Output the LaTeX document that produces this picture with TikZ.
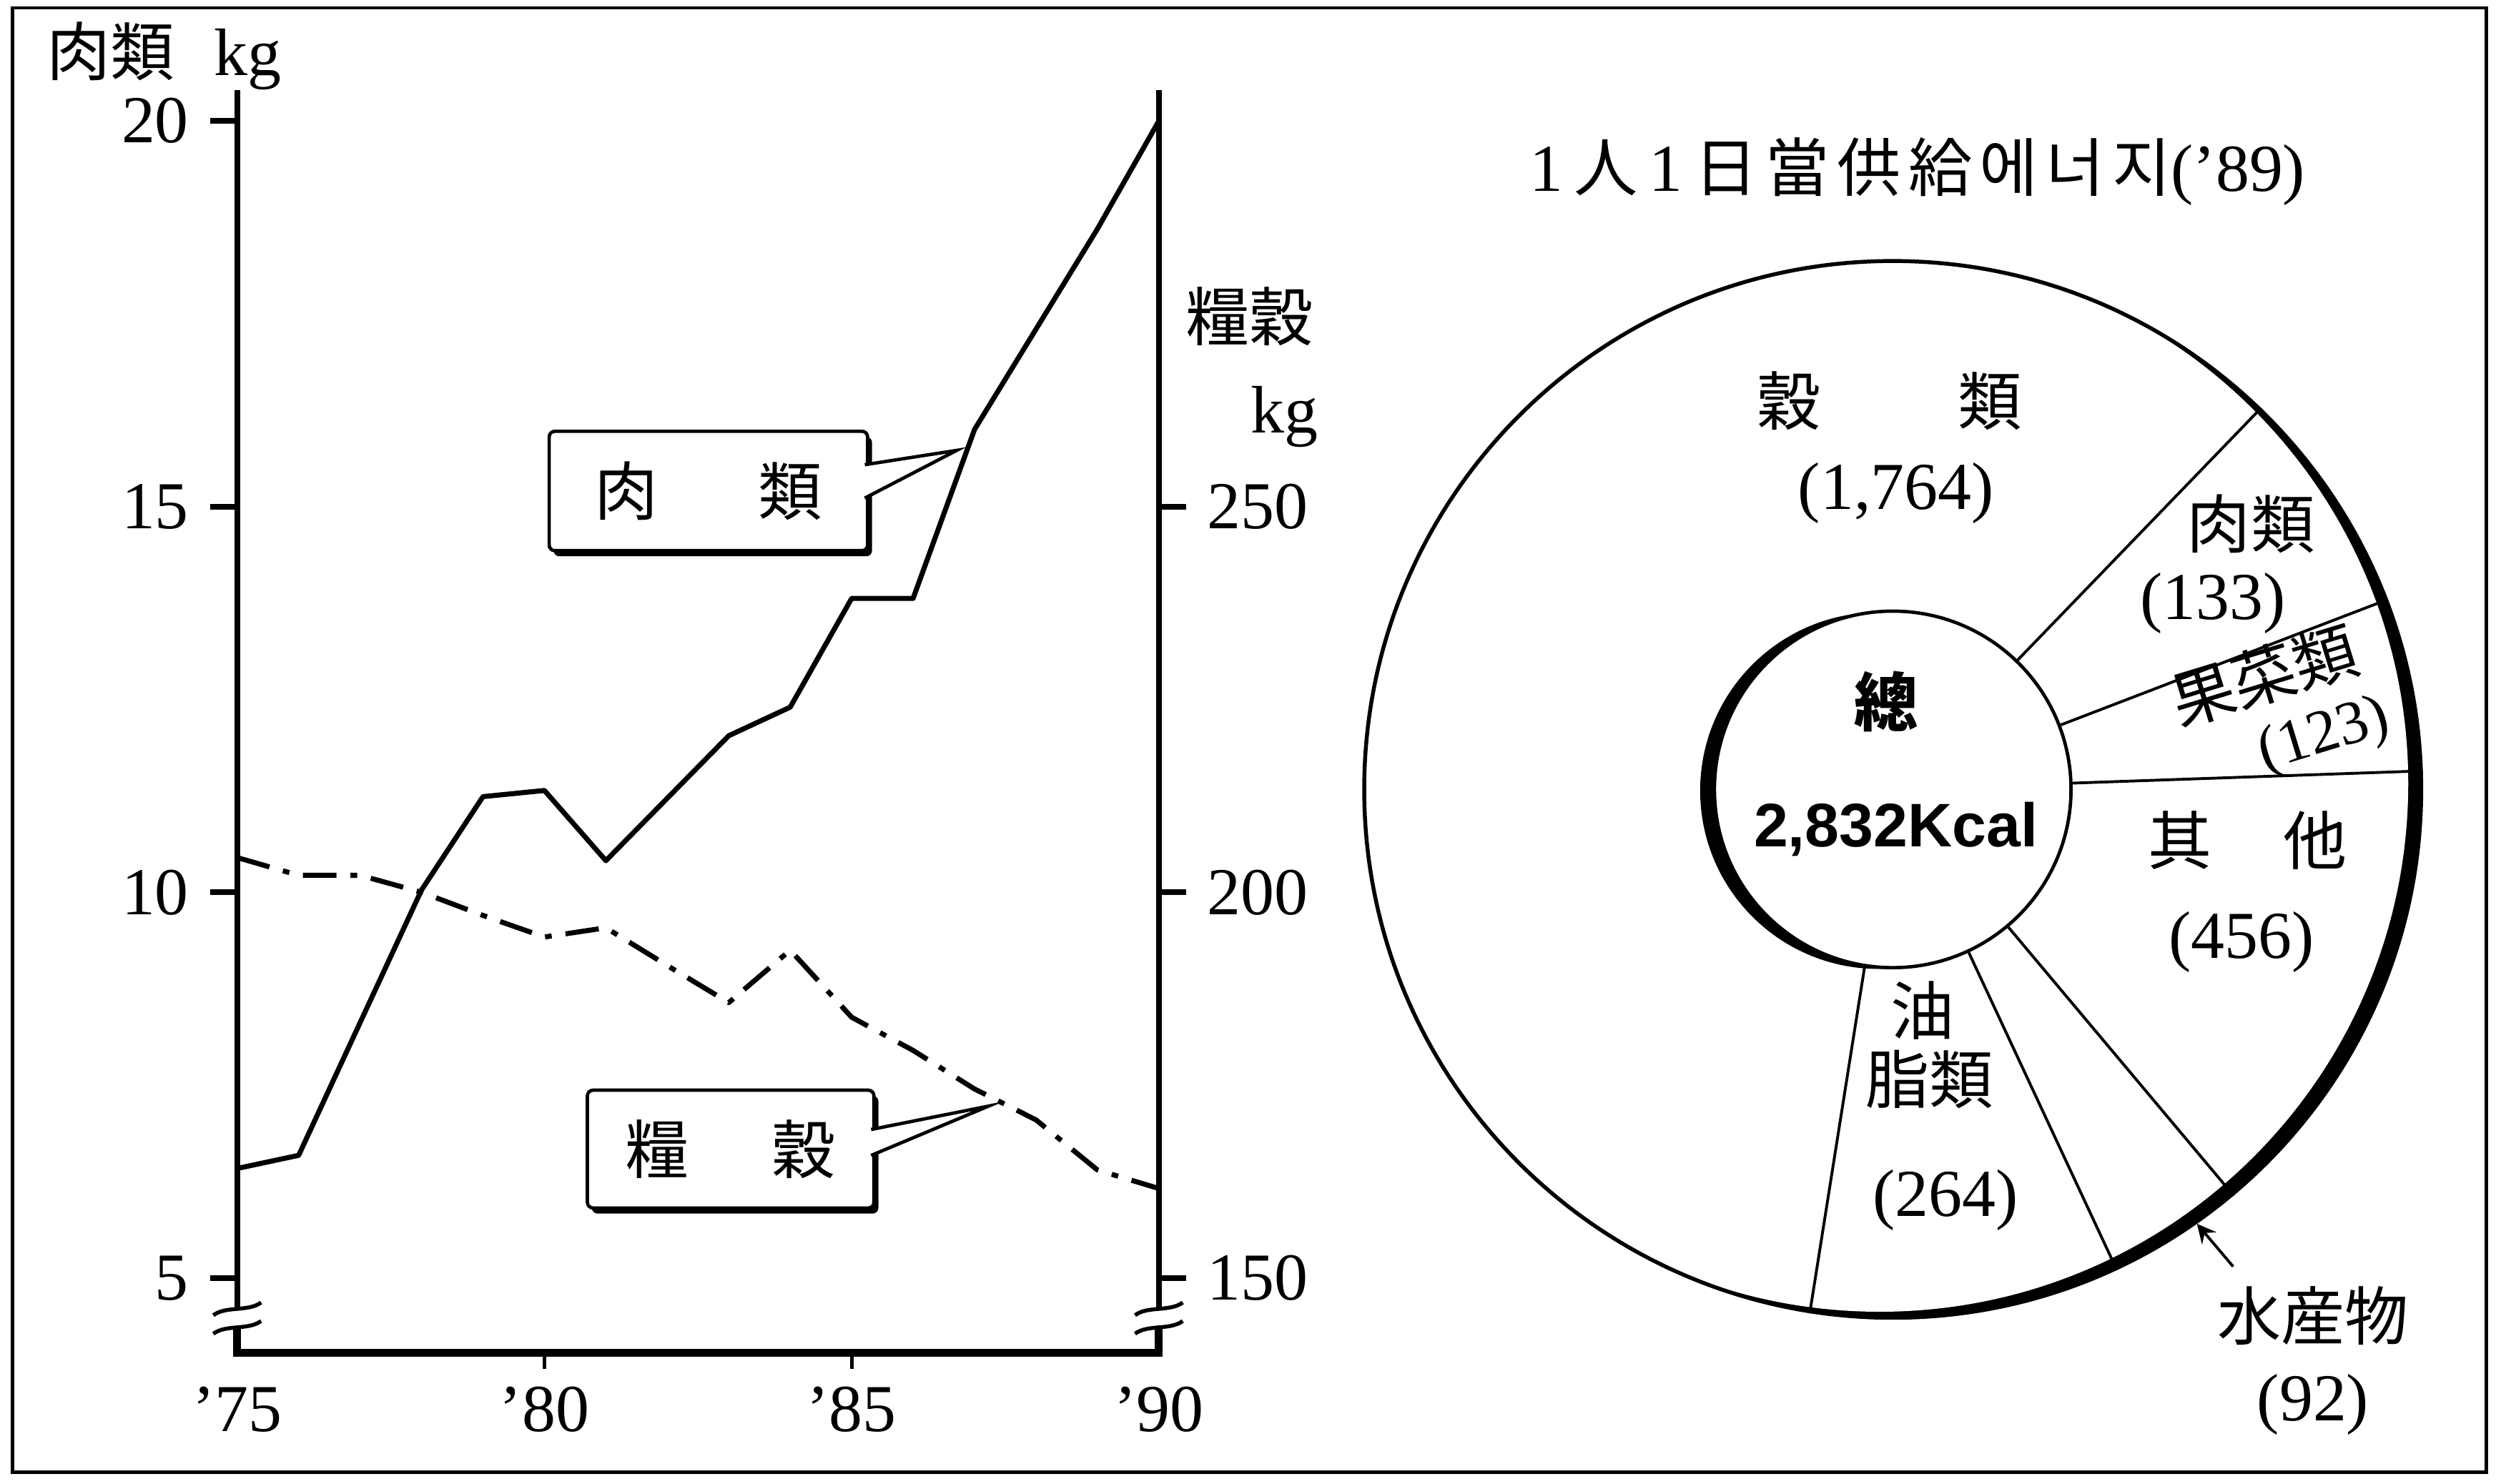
\documentclass[tikz,border=0pt]{standalone}
\usepackage{fontspec}
\setmainfont{Liberation Serif}
\newfontfamily\cjk{Noto Sans CJK KR}[Scale=0.95]
\newfontfamily\cjkwide{Noto Sans CJK KR}[Scale=0.95, LetterSpace=12]
\newfontfamily\hv{Liberation Sans}
\usepackage{tikz}
\usetikzlibrary{calc,positioning,shadows}

\begin{document}
\begin{tikzpicture}[
    font=\fontsize{12}{14.5}\selectfont,
    axisline/.style={line width=1pt},
    labelbox/.style={draw, fill=white, line width=0.6pt, rounded corners=1pt,
      drop shadow={shadow xshift=0.8pt, shadow yshift=-1pt, opacity=1, fill=black}},
    pointer/.style={draw, fill=white, line width=0.6pt},
    spoke/.style={line width=0.5pt}
  ]
    \useasboundingbox (0,0) rectangle (15.68,9.32);

    % Frame round the whole figure
    \draw[line width=0.6pt] (0.08,0.07) rectangle (15.62,9.27);

    % Line chart in data units (year, kg of meat)
    \begin{scope}[x=0.386cm, y=0.4847cm, xshift=-27.46cm, yshift=-1.1335cm]
        % Axes, broken near the bottom
        \draw[axisline] (75,20.4) -- (75,4.6);
        \draw[axisline] (90,20.4) -- (90,4.6);
        \draw[line width=1.4pt] (75,4.36) -- (75,4.03) -- (90,4.03) -- (90,4.36);
        \foreach \xa in {75,90}
            \foreach \ya in {4.6,4.36}
                \draw[line width=0.7pt] ($(\xa,\ya)+(-1.5mm,-0.4mm)$) .. controls +(0.8mm,0.6mm) and +(-0.8mm,-0.6mm) .. ($(\xa,\ya)+(1.5mm,0.4mm)$);

        % Ticks and tick labels
        \foreach \v in {5,10,15,20}
            \draw[axisline] (75,\v) -- ++(-0.17cm,0) node (lt\v) [left] {\v};
        \foreach \v/\t in {5/150,10/200,15/250}
            \draw[axisline] (90,\v) -- ++(0.17cm,0) node (rt\t) [right] {\t};
        \foreach \yr in {80,85}
            \draw[line width=0.6pt] (\yr,4.03) -- ++(0,-0.1cm);
        \foreach \yr in {75,80,85,90}
            \node (yr\yr) at (\yr,3.3) {'\yr};

        % Meat, solid
        \draw[line width=0.9pt, line join=round] plot coordinates {(75,6.42) (76,6.59) (77,8.31) (78,10.03) (79,11.24) (80,11.32) (81,10.41) (82,11.22) (83,12.03) (84,12.40) (85,13.81) (86,13.81) (87,16.0) (88,17.3) (89,18.6) (90,20)};

        % Grain, dash-dot (right scale / 10)
        \draw[line width=0.9pt, line join=round, dash pattern=on 6pt off 2.5pt on 1.2pt off 2.5pt] plot coordinates {(75,10.45) (76,10.22) (77,10.22) (78,10.0) (79,9.7) (80,9.42) (81,9.54) (82,9.05) (83,8.57) (84,9.25) (85,8.38) (86,7.95) (87,7.45) (88,7.05) (89,6.4) (90,6.16)};
    \end{scope}

    % Axis titles
    \node (meatunit) at (1.03,8.97) {{\cjk 肉類}\hspace{2.5mm}kg};
    \node (grainunit) at (7.85,7.33) {\cjk 糧穀};
    \node (grainkg) at (8.07,6.70) {kg};

    % Callout boxes pointing at the lines
    \coordinate (meattip) at (6.01,6.49);
    \node (meatbox) [labelbox, minimum width=2cm, minimum height=0.75cm] at (4.45,6.235) {\cjk 肉\hspace{6.3mm}類};
    \draw[pointer] ($(meatbox.east)+(-0.8pt,1.65mm)$) -- (meattip) -- ($(meatbox.east)+(-0.8pt,-0.45mm)$);

    \coordinate (graintip) at (6.21,2.37);
    \node (grainbox) [labelbox, minimum width=1.8cm, minimum height=0.74cm] at (4.59,2.10) {\cjk 糧\hspace{5.2mm}穀};
    \draw[pointer] ($(grainbox.east)+(-0.8pt,1.23mm)$) -- (graintip) -- ($(grainbox.east)+(-0.8pt,-0.4mm)$);

    % Ring chart: shaded edges first, then the circles
    \node (title) at (12.045,8.24) {1\,{\cjkwide 人}\,1\,{\cjkwide 日當供給에너지}('89)};
    \coordinate (c) at (11.89,4.36);
    \fill (c) circle (3.32);
    \fill[white] ($(c)+(155:0.09)$) circle (3.32);
    \node (pie) [circle, draw, line width=0.7pt, minimum size=6.64cm] at (c) {};
    \fill ($(c)+(185:0.09)$) circle (1.12);
    \node (core) [circle, draw, fill=white, line width=0.6pt, minimum size=2.24cm] at (c) {};

    % Segment borders
    \foreach \a in {46.5,21,2.5,-50,-65.5,-99}
        \draw[spoke] (core.\a) -- (pie.\a);

    % Segment labels
    \node (grainseg) at (11.87,6.80) {\cjk 穀\hspace{8.6mm}類};
    \node (grainval) at (11.91,6.22) {(1,764)};
    \node (meatseg) at (14.14,6.03) {\cjk 肉類};
    \node (meatval) at (13.90,5.53) {(133)};
    \node (fruitseg) [rotate=17, align=center, inner sep=0pt] at (14.29,4.85) {{\cjk 果菜類}\\[-0.9mm]\hspace*{5mm}{\fontsize{11}{13}\selectfont(123)}};
    \node (otherseg) at (14.12,4.04) {\cjk 其\hspace{4.5mm}他};
    \node (otherval) at (14.08,3.40) {(456)};
    \node (oilseg1) at (12.08,2.97) {\cjk 油};
    \node (oilseg2) at (12.12,2.54) {\cjk 脂類};
    \node (oilval) at (12.22,1.78) {(264)};
    \node (fish) [align=center] at (14.53,0.77) {{\cjk 水産物}\\(92)};
    \draw[spoke, -stealth] (fish) -- (pie.-55);

    % Total in the middle
    \node (total) at (11.85,4.91) {\cjk\bfseries 總};
    \node (kcal) at (11.91,4.11) {\fontsize{11}{13}\selectfont\hv\bfseries 2,832Kcal};
\end{tikzpicture}
\end{document}
